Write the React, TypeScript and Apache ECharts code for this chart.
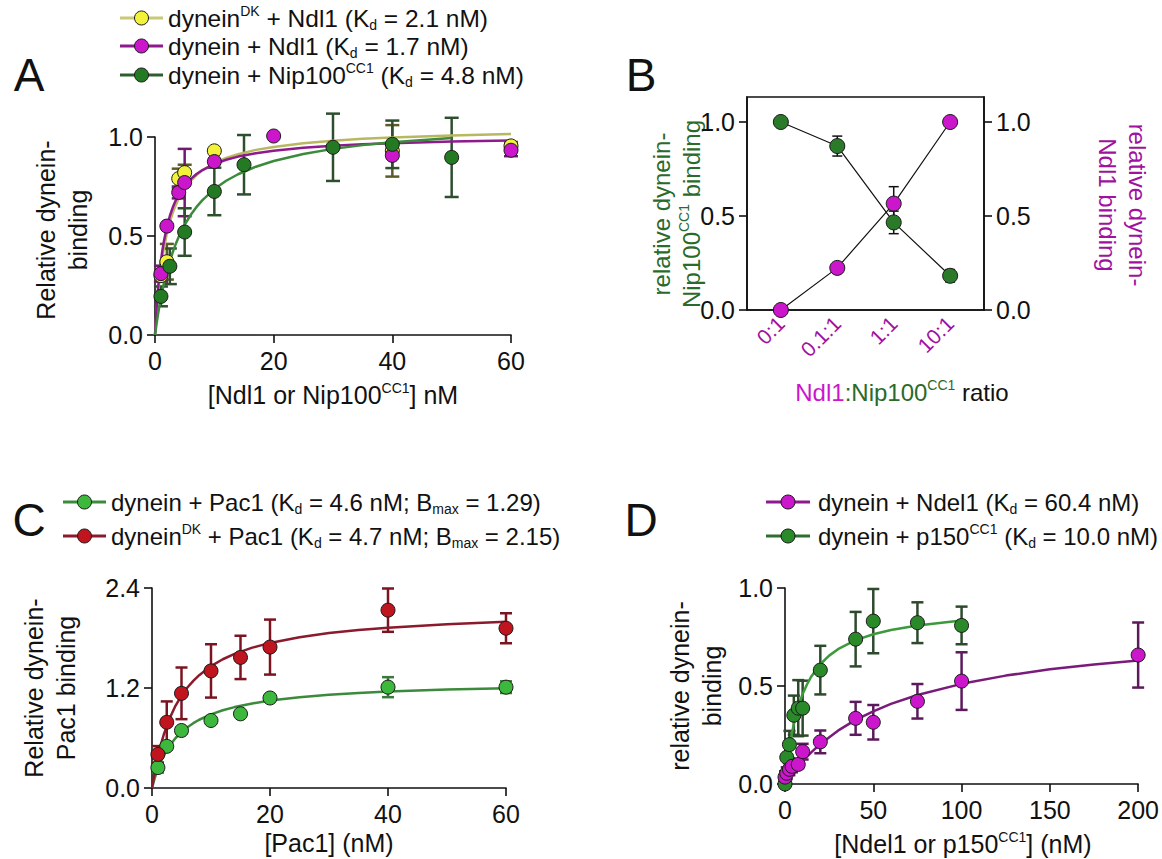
import React, { useEffect, useRef } from 'react';
import * as echarts from 'echarts';

const FONT = '"Liberation Sans", Arial, Helvetica, sans-serif';
const INK = '#111111';

// ---------- Panel A ----------
const aYellowX = [1, 2, 4, 5, 10, 40, 60];
const aYellowY = [0.30, 0.37, 0.79, 0.82, 0.93, 0.93, 0.955];
const aYellowErr = [0.03, 0.09, 0.05, 0.04, 0, 0.13, 0.02];
const aMagX = [1, 2, 4, 5, 10, 20, 40, 60];
const aMagY = [0.31, 0.55, 0.72, 0.77, 0.876, 1.005, 0.907, 0.933];
const aMagErr = [0.04, 0, 0.03, 0.17, 0, 0, 0, 0.03];
const aGreenX = [1, 2.5, 5, 10, 15, 30, 40, 50];
const aGreenY = [0.195, 0.347, 0.52, 0.725, 0.86, 0.948, 0.963, 0.897];
const aGreenErr = [0.05, 0.09, 0.12, 0.12, 0.15, 0.17, 0.12, 0.2];
const aFitX = [0, 0.25, 0.5, 0.75, 1, 1.25, 1.5, 2, 2.5, 3, 3.5, 4, 5, 6, 7, 8, 10, 12, 14, 17, 20, 25, 30, 35, 40, 50, 60];
const aFitYellow = [0, 0.112, 0.202, 0.276, 0.339, 0.392, 0.438, 0.512, 0.571, 0.618, 0.656, 0.689, 0.739, 0.778, 0.808, 0.832, 0.868, 0.894, 0.913, 0.935, 0.95, 0.969, 0.981, 0.991, 0.998, 1.008, 1.015];
const aFitMag = [0, 0.13, 0.23, 0.309, 0.374, 0.428, 0.473, 0.546, 0.601, 0.645, 0.68, 0.709, 0.754, 0.787, 0.813, 0.833, 0.863, 0.885, 0.901, 0.918, 0.931, 0.946, 0.956, 0.963, 0.969, 0.977, 0.982];
const aFitGreen = [0, 0.054, 0.103, 0.147, 0.188, 0.225, 0.26, 0.321, 0.373, 0.419, 0.46, 0.496, 0.556, 0.606, 0.647, 0.681, 0.737, 0.779, 0.812, 0.85, 0.879, 0.914, 0.94, 0.959, 0.973, 0.995];

// ---------- Panel B ----------
const bX = [0, 1, 2, 3];
const bLabels = ['0:1', '0.1:1', '1:1', '10:1'];
const bNip = [1.0, 0.872, 0.466, 0.182];
const bNipErr = [0, 0.053, 0.06, 0.033];
const bNdl = [0, 0.224, 0.566, 1.0];
const bNdlErr = [0, 0, 0.09, 0];

// ---------- Panel C ----------
const cX = [1, 2.5, 5, 10, 15, 20, 40, 60];
const cGreenY = [0.245, 0.5, 0.69, 0.81, 0.89, 1.08, 1.21, 1.21];
const cGreenErr = [0.06, 0, 0.03, 0, 0, 0, 0.12, 0.07];
const cRedY = [0.403, 0.789, 1.136, 1.405, 1.567, 1.691, 2.134, 1.917];
const cRedErr = [0.1, 0.25, 0.31, 0.32, 0.26, 0.33, 0.26, 0.18];
const cFitX = [0, 0.5, 1, 1.5, 2, 3, 4, 5, 6, 7, 8, 10, 12, 14, 17, 20, 25, 30, 35, 40, 50, 60];
const cFitRed = [0, 0.207, 0.377, 0.52, 0.642, 0.838, 0.989, 1.108, 1.206, 1.286, 1.354, 1.463, 1.545, 1.61, 1.684, 1.741, 1.81, 1.859, 1.896, 1.924, 1.965, 1.994];
const cFitGreen = [0, 0.127, 0.23, 0.317, 0.391, 0.509, 0.6, 0.672, 0.73, 0.778, 0.819, 0.884, 0.933, 0.971, 1.015, 1.049, 1.09, 1.119, 1.14, 1.157, 1.181, 1.198];

// ---------- Panel D ----------
const dGreenX = [0, 1, 2.5, 5, 7.5, 10, 20, 40, 50, 75, 100];
const dGreenY = [0, 0.136, 0.201, 0.351, 0.387, 0.387, 0.581, 0.739, 0.831, 0.823, 0.809];
const dGreenErr = [0, 0, 0.07, 0.1, 0.143, 0.14, 0.124, 0.139, 0.164, 0.104, 0.096];
const dMagX = [0, 1, 2.5, 4, 7.5, 10, 20, 40, 50, 75, 100, 200];
const dMagY = [0.035, 0.055, 0.075, 0.09, 0.1, 0.165, 0.215, 0.335, 0.315, 0.422, 0.525, 0.658];
const dMagErr = [0.03, 0.03, 0.03, 0.03, 0.02, 0.04, 0.058, 0.084, 0.088, 0.088, 0.147, 0.166];
const dFitGreenX = [0, 1, 2, 3, 4, 5, 6, 8, 10, 12.5, 15, 20, 25, 30, 40, 50, 60, 75, 100];
const dFitGreenY = [0, 0.083, 0.153, 0.212, 0.262, 0.306, 0.344, 0.408, 0.459, 0.509, 0.55, 0.611, 0.655, 0.688, 0.734, 0.764, 0.786, 0.809, 0.834];
const dFitMagX = [0, 5, 10, 15, 20, 30, 40, 50, 60, 75, 100, 125, 150, 175, 200];
const dFitMagY = [0, 0.063, 0.117, 0.163, 0.204, 0.272, 0.327, 0.371, 0.409, 0.454, 0.511, 0.553, 0.585, 0.61, 0.63];

const zip = (xs: number[], ys: number[]) => ys.map((y, i) => [xs[i], y]);

function errSeries(xs: number[], ys: number[], es: number[], color: string, xi: number, yi: number, cap = 14, lw = 2.5) {
  return {
    type: 'custom',
    xAxisIndex: xi,
    yAxisIndex: yi,
    clip: false,
    z: 2,
    silent: true,
    data: xs.map((x, i) => [x, ys[i] - es[i], ys[i] + es[i]]),
    renderItem: (_p: any, api: any) => {
      const x = api.value(0);
      const lo = api.value(1);
      const hi = api.value(2);
      if (hi - lo <= 0) return { type: 'group', children: [] };
      const a = api.coord([x, lo]);
      const b = api.coord([x, hi]);
      const style = { stroke: color, lineWidth: lw, fill: 'none' };
      return {
        type: 'group',
        children: [
          { type: 'line', shape: { x1: a[0], y1: a[1], x2: b[0], y2: b[1] }, style },
          { type: 'line', shape: { x1: a[0] - cap / 2, y1: a[1], x2: a[0] + cap / 2, y2: a[1] }, style },
          { type: 'line', shape: { x1: b[0] - cap / 2, y1: b[1], x2: b[0] + cap / 2, y2: b[1] }, style },
        ],
      };
    },
  };
}

function fitSeries(xs: number[], ys: number[], color: string, xi: number, yi: number, w = 2.5) {
  return {
    type: 'line',
    xAxisIndex: xi,
    yAxisIndex: yi,
    data: zip(xs, ys),
    showSymbol: false,
    smooth: false,
    clip: false,
    z: 3,
    silent: true,
    lineStyle: { color, width: w, join: 'round' },
  };
}

function dotSeries(xs: number[], ys: number[], color: string, xi: number, yi: number, size = 14) {
  return {
    type: 'scatter',
    xAxisIndex: xi,
    yAxisIndex: yi,
    data: zip(xs, ys),
    symbol: 'circle',
    symbolSize: size,
    clip: false,
    z: 4,
    itemStyle: { color, borderColor: '#1a1a1a', borderWidth: 1, opacity: 1 },
  };
}

const axisLine = { show: true, onZero: false, lineStyle: { color: INK, width: 1.6 } };
const axisTick = { show: true, inside: false, length: 8, lineStyle: { color: INK, width: 1.6 } };
const tickFont = { fontSize: 25, fontFamily: FONT, color: INK };

function xVal(gridIndex: number, min: number, max: number, interval: number) {
  return {
    type: 'value', gridIndex, min, max, interval,
    axisLine, axisTick,
    axisLabel: { ...tickFont, margin: 13 },
    splitLine: { show: false },
  };
}
function yVal(gridIndex: number, min: number, max: number, interval: number) {
  return {
    type: 'value', gridIndex, min, max, interval,
    axisLine, axisTick,
    axisLabel: { ...tickFont, margin: 12, formatter: (v: number) => v.toFixed(1) },
    splitLine: { show: false },
  };
}

const richBase = {
  sup: { fontSize: 14, fontFamily: FONT, fill: INK, padding: [0, 0, 14, 0] },
  sub: { fontSize: 14, fontFamily: FONT, fill: INK, padding: [14, 0, 0, 0] },
};

function txt(x: number, y: number, text: string, opts: any = {}) {
  const { rotation = 0, fontSize = 25, fill = INK, align = 'center', rich = richBase, lineHeight } = opts;
  return {
    type: 'text',
    x, y, rotation,
    silent: true,
    style: {
      text, fill, fontSize, fontFamily: FONT,
      align, verticalAlign: 'middle', textAlign: align, textVerticalAlign: 'middle',
      rich, lineHeight,
    },
  };
}

function legendRow(x1: number, x2: number, y: number, lineColor: string, dotColor: string, textX: number, text: string, fontSize = 24) {
  return [
    { type: 'line', silent: true, shape: { x1, y1: y, x2, y2: y }, style: { stroke: lineColor, lineWidth: 3 } },
    { type: 'circle', silent: true, shape: { cx: (x1 + x2) / 2, cy: y, r: 7 }, style: { fill: dotColor, stroke: '#1a1a1a', lineWidth: 1 } },
    txt(textX, y, text, { align: 'left', fontSize }),
  ];
}

export default function App() {
  const ref = useRef<HTMLDivElement>(null);
  useEffect(() => {
    if (!ref.current) return;
    const chart = echarts.init(ref.current, null, { renderer: 'svg' });
    const bTickVals = [0, 0.5, 1];
    const option: any = {
      animation: false,
      backgroundColor: '#ffffff',
      textStyle: { fontFamily: FONT },
      grid: [
        { left: 155, top: 137, width: 356, height: 198 },
        { left: 747, top: 97, width: 237, height: 213, show: true, borderColor: INK, borderWidth: 1.6, backgroundColor: 'transparent' },
        { left: 152, top: 588, width: 354, height: 200 },
        { left: 785, top: 588, width: 355, height: 196 },
      ],
      xAxis: [
        xVal(0, 0, 60, 20),
        {
          type: 'value', gridIndex: 1, min: -0.6, max: 3.6,
          axisLine, axisTick: { show: false },
          axisLabel: {
            customValues: bX, rotate: 45, margin: 10, fontSize: 21, fontFamily: FONT, color: '#a0129e',
            formatter: (v: number) => bLabels[Math.round(v)] ?? '',
          },
          splitLine: { show: false },
        },
        xVal(2, 0, 60, 20),
        xVal(3, 0, 200, 50),
      ],
      yAxis: [
        yVal(0, 0, 1, 0.5),
        {
          type: 'value', gridIndex: 1, min: 0, max: 1.133, position: 'left',
          axisLine, axisTick: { ...axisTick, customValues: bTickVals },
          axisLabel: { ...tickFont, margin: 12, customValues: bTickVals, formatter: (v: number) => v.toFixed(1) },
          splitLine: { show: false },
        },
        {
          type: 'value', gridIndex: 1, min: 0, max: 1.133, position: 'right',
          axisLine, axisTick: { ...axisTick, customValues: bTickVals },
          axisLabel: { ...tickFont, margin: 12, customValues: bTickVals, formatter: (v: number) => v.toFixed(1) },
          splitLine: { show: false },
        },
        yVal(2, 0, 2.4, 1.2),
        yVal(3, 0, 1, 0.5),
      ],
      series: [
        // A
        errSeries(aYellowX, aYellowY, aYellowErr, '#5c5c28', 0, 0),
        errSeries(aMagX, aMagY, aMagErr, '#6e1a6e', 0, 0),
        errSeries(aGreenX, aGreenY, aGreenErr, '#2d4f2d', 0, 0),
        fitSeries(aFitX, aFitYellow, '#b8b860', 0, 0),
        fitSeries(aFitX, aFitMag, '#8e1a8e', 0, 0),
        fitSeries(aFitX.slice(0, aFitGreen.length), aFitGreen, '#3c8a3c', 0, 0),
        dotSeries(aYellowX, aYellowY, '#f2f23a', 0, 0),
        dotSeries(aMagX, aMagY, '#cc16cc', 0, 0),
        dotSeries(aGreenX, aGreenY, '#237a23', 0, 0),
        // B
        errSeries(bX, bNip, bNipErr, INK, 1, 1, 10, 1.5),
        errSeries(bX, bNdl, bNdlErr, INK, 1, 1, 10, 1.5),
        {
          type: 'line', xAxisIndex: 1, yAxisIndex: 1, data: zip(bX, bNip), z: 4,
          symbol: 'circle', symbolSize: 15, showSymbol: true, clip: false,
          lineStyle: { color: INK, width: 1.2 },
          itemStyle: { color: '#2a7a2a', borderColor: '#1a1a1a', borderWidth: 1 },
        },
        {
          type: 'line', xAxisIndex: 1, yAxisIndex: 1, data: zip(bX, bNdl), z: 4,
          symbol: 'circle', symbolSize: 15, showSymbol: true, clip: false,
          lineStyle: { color: INK, width: 1.2 },
          itemStyle: { color: '#cc16cc', borderColor: '#1a1a1a', borderWidth: 1 },
        },
        // C
        errSeries(cX, cGreenY, cGreenErr, '#3a7a3a', 2, 3, 12, 2.5),
        errSeries(cX, cRedY, cRedErr, '#7a1420', 2, 3, 12, 2.5),
        fitSeries(cFitX, cFitGreen, '#3c8a3c', 2, 3),
        fitSeries(cFitX, cFitRed, '#8a1a2c', 2, 3),
        dotSeries(cX, cGreenY, '#3cb83c', 2, 3),
        dotSeries(cX, cRedY, '#c0141e', 2, 3),
        // D
        errSeries(dGreenX, dGreenY, dGreenErr, '#2d4a2d', 3, 4, 12, 2.5),
        errSeries(dMagX, dMagY, dMagErr, '#5c1a5c', 3, 4, 12, 2.5),
        fitSeries(dFitGreenX, dFitGreenY, '#3c9a3c', 3, 4),
        fitSeries(dFitMagX, dFitMagY, '#7a1a7a', 3, 4),
        dotSeries(dGreenX, dGreenY, '#2a8a2a', 3, 4),
        dotSeries(dMagX, dMagY, '#cc16cc', 3, 4),
      ],
      graphic: [
        // panel letters
        txt(29, 75, 'A', { fontSize: 46 }),
        txt(641, 75, 'B', { fontSize: 46 }),
        txt(29, 520, 'C', { fontSize: 46 }),
        txt(641, 520, 'D', { fontSize: 46 }),
        // legend A
        ...legendRow(120, 163, 18, '#c8c878', '#f2f23a', 168, 'dynein{sup|DK} + Ndl1 (K{sub|d} = 2.1 nM)', 24.5),
        ...legendRow(120, 163, 46, '#8e1a8e', '#cc16cc', 168, 'dynein + Ndl1 (K{sub|d} = 1.7 nM)', 24.5),
        ...legendRow(120, 163, 75, '#2e5e2e', '#237a23', 168, 'dynein + Nip100{sup|CC1} (K{sub|d} = 4.8 nM)', 24.5),
        // legend C
        ...legendRow(63, 106, 502, '#3c8a3c', '#3cb83c', 111, 'dynein + Pac1 (K{sub|d} = 4.6 nM; B{sub|max} = 1.29)'),
        ...legendRow(63, 106, 536, '#8a1a2c', '#c0141e', 111, 'dynein{sup|DK} + Pac1 (K{sub|d} = 4.7 nM; B{sub|max} = 2.15)'),
        // legend D
        ...legendRow(766, 810, 502, '#8e1a8e', '#cc16cc', 818, 'dynein + Ndel1 (K{sub|d} = 60.4 nM)'),
        ...legendRow(766, 810, 536, '#2e6e2e', '#2a8a2a', 818, 'dynein + p150{sup|CC1} (K{sub|d} = 10.0 nM)'),
        // axis titles A
        txt(62, 230, 'Relative dynein-\nbinding', { rotation: Math.PI / 2, lineHeight: 32 }),
        txt(333, 395, '[Ndl1 or Nip100{sup|CC1}] nM'),
        // axis titles B
        txt(676, 214, '{g|relative dynein-}\n{g|Nip100}{gs|CC1}{g| binding}', {
          rotation: Math.PI / 2, lineHeight: 30,
          rich: {
            g: { fontSize: 24, fontFamily: FONT, fill: '#2a6a2a' },
            gs: { fontSize: 14, fontFamily: FONT, fill: '#2a6a2a', padding: [0, 0, 14, 0] },
          },
        }),
        txt(1122, 205, '{m|relative dynein-}\n{m|Ndl1 binding}', {
          rotation: -Math.PI / 2, lineHeight: 30,
          rich: { m: { fontSize: 24, fontFamily: FONT, fill: '#a0129e' } },
        }),
        txt(902, 392, '{m|Ndl1}{g|:Nip100}{gs|CC1}{k| ratio}', {
          rich: {
            m: { fontSize: 24, fontFamily: FONT, fill: '#cc16cc' },
            g: { fontSize: 24, fontFamily: FONT, fill: '#2a6a2a' },
            gs: { fontSize: 14, fontFamily: FONT, fill: '#2a6a2a', padding: [0, 0, 14, 0] },
            k: { fontSize: 24, fontFamily: FONT, fill: INK },
          },
        }),
        // axis titles C
        txt(50, 688, 'Relative dynein-\nPac1 binding', { rotation: Math.PI / 2, lineHeight: 32 }),
        txt(329, 843, '[Pac1] (nM)'),
        // axis titles D
        txt(696, 686, 'relative dynein-\nbinding', { rotation: Math.PI / 2, lineHeight: 32 }),
        txt(963, 844, '[Ndel1 or p150{sup|CC1}] (nM)'),
      ],
    };
    chart.setOption(option);
    return () => chart.dispose();
  }, []);
  return (
    <div
      ref={ref}
      style={{ position: 'fixed', left: 0, top: 0, width: 1162, height: 859, background: '#fff' }}
    />
  );
}
